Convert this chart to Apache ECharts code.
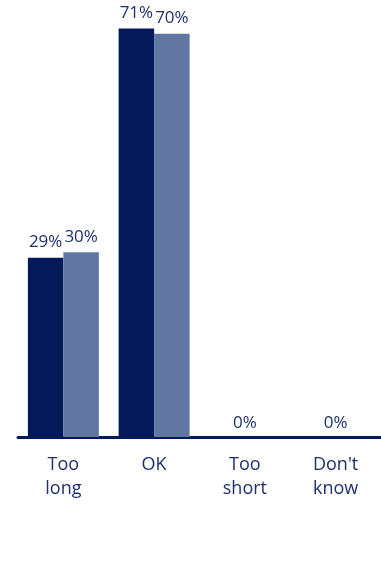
<!DOCTYPE html>
<html>
<head>
<meta charset="utf-8">
<script src="https://cdn.jsdelivr.net/npm/echarts@6/dist/echarts.min.js"></script>
<style>
  html, body { margin: 0; padding: 0; background: #ffffff; }
  #chart { width: 381px; height: 562px; }
</style>
</head>
<body>
<div id="chart"></div>
<script>
// categories and values (percent)
const categories = ['Too\nlong', 'OK', 'Too\nshort', "Don't\nknow"]
const seriesA = [29, 71, 0, 0]
const seriesB = [30, 70, 0, 0]

const navy = '#03195a'
const slate = '#6177a2'
const textColor = '#1f306b'
const barW = 35.5

// zero bars are hidden, one 0% label sits in the middle of the group
function toItems(values, isFirst) {
  return values.map(function (v) {
    if (v !== 0) return v
    return {
      value: v,
      itemStyle: { color: 'transparent' },
      label: isFirst
        ? { show: true, position: 'insideBottom', distance: 5, offset: [barW / 2, 0] }
        : { show: false }
    }
  })
}

const valueLabel = {
  show: true,
  position: 'top',
  distance: 7,
  color: textColor,
  fontFamily: 'Open Sans',
  fontSize: 17,
  formatter: '{c}%'
}

const chart = echarts.init(document.getElementById('chart'))
chart.setOption({
  animation: false,
  grid: { left: 18, right: 0, top: 0, bottom: 125 },
  xAxis: {
    type: 'category',
    data: categories,
    axisLine: { onZero: false, lineStyle: { color: navy, width: 3 } },
    axisTick: { show: false },
    axisLabel: {
      color: textColor,
      fontFamily: 'Open Sans',
      fontSize: 18,
      lineHeight: 24,
      margin: 16,
      interval: 0
    }
  },
  yAxis: {
    type: 'value',
    min: -3.8,
    max: 76.2,
    startValue: -3.8,
    show: false,
    splitLine: { show: false }
  },
  series: [
    {
      type: 'bar',
      data: toItems(seriesA, true),
      barWidth: barW,
      barGap: '0%',
      itemStyle: { color: navy },
      label: valueLabel
    },
    {
      type: 'bar',
      data: toItems(seriesB, false),
      barWidth: barW,
      barGap: '0%',
      itemStyle: { color: slate },
      label: valueLabel
    }
  ]
})
</script>
</body>
</html>
